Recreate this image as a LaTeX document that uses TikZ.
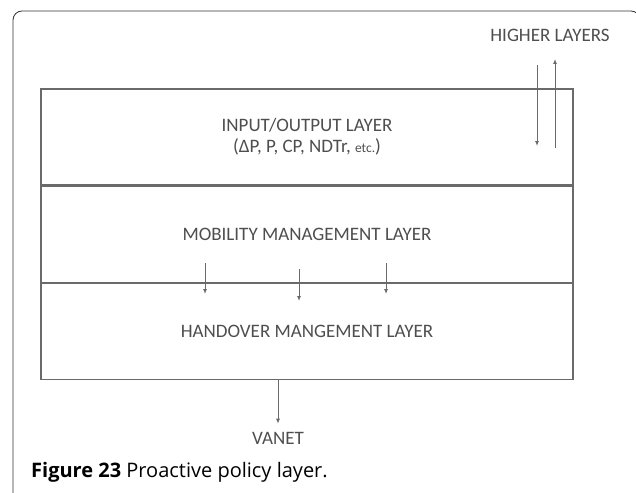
\documentclass[tikz,border=0pt]{standalone}
\usepackage{fontspec}
\setmainfont{Carlito}
\newfontfamily\capfont{Open Sans}
\usetikzlibrary{positioning, arrows.meta}

\definecolor{linegray}{HTML}{6A6A6A}
\definecolor{textgray}{HTML}{4E4E4E}

\tikzset{
  layerbox/.style={draw=linegray, line width=1.3pt, minimum width=532pt,
    minimum height=96pt, inner sep=0pt, align=center, text=textgray,
    font=\fontsize{19}{22}\selectfont},
  lbl/.style={text=textgray, font=\fontsize{19}{22}\selectfont, inner sep=1pt},
  arr/.style={draw=linegray, line width=0.9pt, -{Latex[length=5pt,width=4pt]}}
}

\begin{document}
\begin{tikzpicture}[x=1pt, y=-1pt]
\useasboundingbox (0,0) rectangle (636,492);

% outer frame of the figure
\draw[black!80, line width=0.8pt, rounded corners=9pt] (13,520) -- (13,11) -- (640,11) -- (640,520);

% --- the three stacked layers ---
\node[layerbox] (io) at (307,137) {INPUT/OUTPUT LAYER\\[-1pt](ΔP, P, CP, NDTr, {\fontsize{13.5}{14}\selectfont etc.})};
\node[layerbox, below=0pt of io] (mob) {MOBILITY MANAGEMENT LAYER};
\node[layerbox, below=0pt of mob] (ho) {HANDOVER MANGEMENT LAYER};

% --- labels outside the box ---
\node[lbl] (higher) at (550,35) {HIGHER LAYERS};
\node[lbl] (vanet) at (278,438) {VANET};

% higher layers <-> input/output
\draw[arr] ([xshift=-13pt]higher.south |- 0,65) -- ([xshift=-13pt]higher.south |- 0,146);
\draw[arr] ([xshift=5pt]higher.south |- 0,148) -- ([xshift=5pt]higher.south |- 0,59);

% mobility -> handover
\coordinate (m1) at (205,263);
\coordinate (m2) at (299,269);
\coordinate (m3) at (386,263);
\foreach \m/\len in {m1/31, m2/32, m3/31} {
  \draw[arr] (\m) -- ++(0,\len);
}

% handover -> vanet
\draw[arr] (ho.south -| vanet) -- ([yshift=7pt]vanet.north);

% caption
\node[anchor=west, inner sep=0pt, font=\capfont\fontsize{20}{22}\selectfont] (cap) at (31,472)
  {\textbf{Figure 23} Proactive policy layer.};

\end{tikzpicture}
\end{document}
